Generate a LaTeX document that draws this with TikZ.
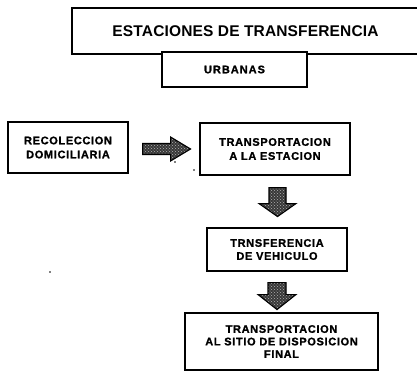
\documentclass[tikz,border=0pt]{standalone}
\usepackage{fontspec}
\setmainfont{Liberation Sans}
\newfontfamily\boxfont[LetterSpace=6,FakeBold=1.2]{Liberation Sans}
\newfontfamily\urbfont[LetterSpace=9,FakeBold=1.2]{Liberation Sans}
\newfontfamily\titlefont[LetterSpace=1]{Liberation Sans}
\usetikzlibrary{patterns,calc}
\begin{document}
\begin{tikzpicture}[x=1pt,y=-1pt,
  box/.style={draw, line width=1.1pt, fill=white, inner sep=0pt, align=center,
    font=\boxfont\bfseries\fontsize{11}{14}\selectfont},
  arr/.style={line width=1.1pt, line join=miter, preaction={fill=black!78},
    preaction={pattern=crosshatch dots, pattern color=white!70!black}},
  speck/.style={fill=black}]
\useasboundingbox[fill=white] (0,0) rectangle (417,378);
\node[box, minimum width=347pt, minimum height=46pt,
  font=\titlefont\bfseries\fontsize{15.5}{18}\selectfont] (title) at (245.5,31) {ESTACIONES DE TRANSFERENCIA};
\node[box, minimum width=145pt, minimum height=35pt,
  font=\urbfont\bfseries\fontsize{11}{13}\selectfont] (urb) at (234.5,69.5) {URBANAS};
\node[box, minimum width=120pt, minimum height=51pt] (rec) at (68,147.5) {RECOLECCION\\DOMICILIARIA};
\node[box, minimum width=150pt, minimum height=52pt] (tra) at (275,149) {TRANSPORTACION\\A LA ESTACION};
\node[box, minimum width=140pt, minimum height=43pt,
  font=\boxfont\bfseries\fontsize{11}{13}\selectfont] (trn) at (277,249.5) {TRNSFERENCIA\\DE VEHICULO};
\node[box, minimum width=193pt, minimum height=57pt,
  font=\boxfont\bfseries\fontsize{11}{12.5}\selectfont] (fin) at (281.5,341.5) {TRANSPORTACION\\AL SITIO DE DISPOSICION\\FINAL};
% block arrows
\path[arr,draw] ($(rec.east)+(14,-4)$) -- ++(28,0) -- ++(0,-6.5) -- ++(20,12) -- ++(-20,12) -- ++(0,-6.5) -- ++(-28,0) -- cycle;
\path[arr,draw] ($(tra.south)+(-6,12)$) -- ++(17,0) -- ++(0,16) -- ++(10,0) -- ++(-18.5,13) -- ++(-18.5,-13) -- ++(10,0) -- cycle;
\path[arr,draw] ($(trn.south)+(-9,11)$) -- ++(18,0) -- ++(0,12) -- ++(10,0) -- ++(-19,15) -- ++(-19,-15) -- ++(10,0) -- cycle;
% specks
\fill[speck] (175,162) circle[radius=0.9pt];
\fill[speck] (194,170) circle[radius=0.8pt];
\fill[speck] (50,272) circle[radius=0.9pt];
\end{tikzpicture}
\end{document}
